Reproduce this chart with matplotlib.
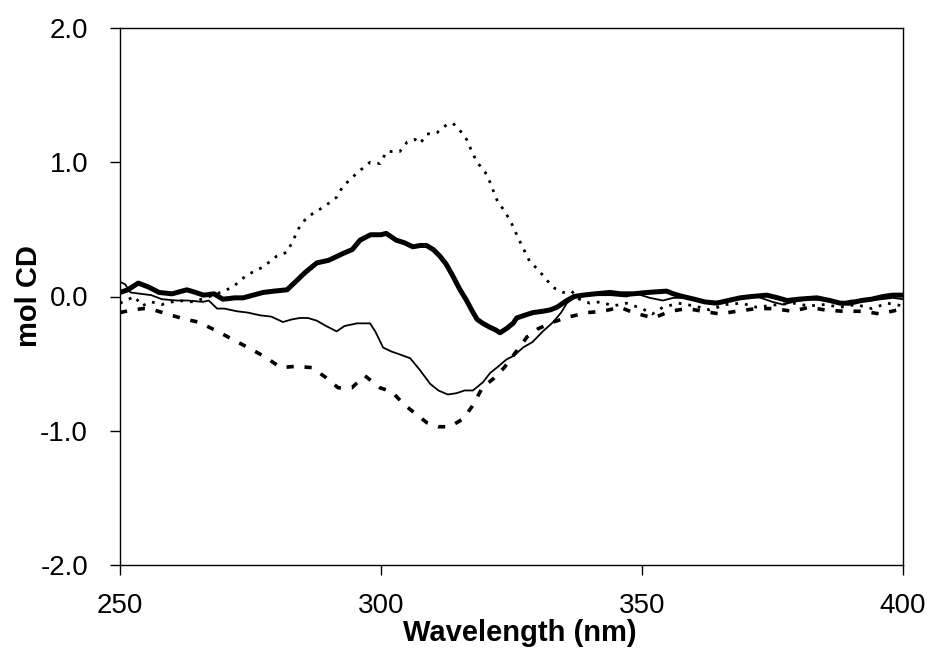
import numpy as np
import matplotlib
matplotlib.use('Agg')
import matplotlib.pyplot as plt

##################################################################
# Data (wavelength in nm, mol CD)

# thick solid line
wlThick = [250, 251.5, 253.5, 255.5, 257.5, 260, 262.8, 264.5, 266, 268, 269.7, 272, 273.6,
           275.5, 277.4, 279.5, 282, 283.9, 285.5, 287.7, 290, 292.7, 294.5, 296, 298, 300,
           301, 302.9, 304.5, 306.1, 307.5, 308.7, 310, 311.3, 312.5, 313.8, 315, 316.4,
           317.5, 318.4, 319.5, 320.9, 322, 322.8, 324, 325.3, 326, 327.5, 329.1, 331, 332.4,
           333.7, 335.6, 337, 338.7, 341, 343.9, 346, 348.3, 351, 354.7, 356, 357.8, 360, 362,
           364.3, 366.5, 368.8, 371, 373.9, 376, 377.8, 380, 383.5, 386, 388, 389.8, 392, 394,
           396.2, 398, 400]
cdThick = [0.03, 0.05, 0.10, 0.07, 0.03, 0.02, 0.05, 0.03, 0.01, 0.02, -0.02, -0.01, -0.01,
           0.01, 0.03, 0.04, 0.05, 0.12, 0.18, 0.25, 0.27, 0.32, 0.35, 0.42, 0.46, 0.46,
           0.47, 0.42, 0.40, 0.37, 0.38, 0.38, 0.35, 0.30, 0.24, 0.15, 0.06, -0.03,
           -0.11, -0.17, -0.20, -0.23, -0.25, -0.27, -0.24, -0.20, -0.16, -0.14, -0.12, -0.11, -0.10,
           -0.08, -0.03, 0.00, 0.01, 0.02, 0.03, 0.02, 0.02, 0.03, 0.04, 0.02, 0.00, -0.02, -0.04,
           -0.05, -0.03, -0.01, 0.00, 0.01, -0.01, -0.03, -0.02, -0.01, -0.03, -0.05, -0.05, -0.03, -0.02,
           0.00, 0.01, 0.01]

# thin solid line
wlThin = [250, 251, 252, 254, 256, 258, 260.9, 263, 265.9, 267, 268.6, 270, 272.4, 274.5,
          276.8, 279, 281.2, 283, 284.5, 286, 287.7, 289.5, 291.5, 293, 295.4, 297.9, 298.9,
          300.4, 302, 303.5, 305.6, 307.5, 309.4, 311, 312.8, 314.5, 316, 317.6, 319.5, 320.9,
          322.5, 324, 325.5, 327.2, 329, 331, 333, 334.5, 335.6, 337, 338.7, 341, 344, 347,
          349, 351.5, 354, 356, 358, 361, 364, 367, 370, 372, 375, 377, 379, 382, 385, 388,
          390, 393, 396, 398, 400]
cdThin = [0.11, 0.09, 0.03, 0.02, 0.01, -0.02, -0.03, -0.03, -0.04, -0.03, -0.09, -0.09, -0.11, -0.12,
          -0.14, -0.15, -0.19, -0.17, -0.16, -0.16, -0.18, -0.22, -0.26, -0.22, -0.20, -0.20, -0.26,
          -0.38, -0.41, -0.43, -0.46, -0.55, -0.65, -0.70, -0.73, -0.72, -0.70, -0.70, -0.64, -0.57,
          -0.52, -0.47, -0.44, -0.38, -0.34, -0.26, -0.19, -0.12, -0.05, -0.01, 0.01, 0.01, 0.01, 0.00,
          0.02, -0.01, -0.03, -0.01, -0.01, -0.03, -0.04, -0.02, -0.01, 0.00, -0.04, -0.06, -0.04, -0.02, -0.03, -0.05,
          -0.03, -0.03, -0.02, -0.01, -0.02]

# dashed line
wlDash = [250, 252.3, 254.5, 256.5, 259, 262.5, 265, 268.2, 271.6, 274.5, 277.8, 280.8, 283.7,
          286.8, 289.3, 291.8, 294.4, 296.9, 299.8, 302.1, 304.3, 306.5, 308.8, 311, 313.2,
          315.8, 317.6, 319.4, 321.6, 323.6, 325.9, 328, 330.1, 333, 336.2, 339.5, 342.5,
          345.8, 348.3, 352.2, 355.4, 358.6, 361.7, 364.9, 368.1, 371.9, 375.1, 378.9, 382,
          385, 388.5, 392.3, 395.6, 399, 400]
cdDash = [-0.12, -0.10, -0.09, -0.10, -0.13, -0.17, -0.19, -0.25, -0.32, -0.38, -0.45, -0.53, -0.52,
          -0.53, -0.60, -0.68, -0.68, -0.59, -0.68, -0.71, -0.80, -0.87, -0.94, -0.97, -0.97,
          -0.91, -0.81, -0.68, -0.61, -0.53, -0.41, -0.30, -0.24, -0.19, -0.15, -0.12, -0.11,
          -0.08, -0.12, -0.16, -0.11, -0.09, -0.11, -0.13, -0.11, -0.09, -0.09, -0.11, -0.08,
          -0.10, -0.11, -0.11, -0.13, -0.10, -0.09]

# dotted line
wlDot = [250, 252.8, 254.2, 256, 258, 261, 264, 266.5, 269.2, 271.6, 274.3, 277.4, 280, 282,
         283.2, 284.1, 285.8, 288.3, 290.2, 291.5, 292.7, 295.4, 297.9, 299.8, 301.1, 303.6,
         305, 306.5, 307.5, 308.8, 310.7, 312.6, 313.8, 315.5, 316.4, 317.4, 318.4, 319.9,
         320.9, 321.5, 322.2, 323.4, 324.7, 326.6, 328.5, 330.1, 331.8, 333.3, 334.9, 336.5,
         338, 340, 342, 344.5, 347, 350, 352, 354, 357, 360, 363, 366, 369, 372, 376, 379,
         382, 385, 388, 391, 394, 397, 400]
cdDot = [-0.05, 0.00, -0.07, -0.04, -0.06, -0.03, -0.04, -0.01, 0.03, 0.07, 0.16, 0.22, 0.30, 0.33,
         0.42, 0.50, 0.59, 0.65, 0.70, 0.74, 0.82, 0.92, 1.00, 0.99, 1.08, 1.08,
         1.15, 1.17, 1.14, 1.21, 1.22, 1.28, 1.29, 1.22, 1.17, 1.08, 1.00, 0.93,
         0.85, 0.79, 0.72, 0.65, 0.57, 0.41, 0.26, 0.20, 0.12, 0.06, 0.03, 0.04,
         -0.02, -0.05, -0.04, -0.07, -0.05, -0.09, -0.13, -0.08, -0.05, -0.07, -0.10, -0.06, -0.05, -0.08, -0.06, -0.05,
         -0.07, -0.06, -0.08, -0.06, -0.09, -0.05, -0.07]

xTicks = [250, 300, 350, 400]
yTicks = [-2.0, -1.0, 0.0, 1.0, 2.0]

##################################################################
# Plot

plt.rcParams['font.family'] = ['Liberation Sans', 'DejaVu Sans']

fig = plt.figure(figsize=(9.32, 6.52), dpi=100)
ax = fig.add_axes([120/932, 1-565/652, 783/932, 537/652])

ax.plot(wlDot, cdDot, color='black', lw=2.0, linestyle=(0, (1, 2.5)))
ax.plot(wlDash, cdDash, color='black', lw=2.6, linestyle=(0, (2, 3)))
ax.plot(wlThin, cdThin, color='black', lw=1.3)
ax.plot(wlThick, cdThick, color='black', lw=3.6)

ax.set_xlim(250, 400)
ax.set_ylim(-2.0, 2.0)
ax.set_xticks(xTicks)
ax.set_xticklabels([str(x) for x in xTicks])
ax.set_yticks(yTicks)
ax.set_yticklabels(['{:.1f}'.format(y) for y in yTicks])

ax.tick_params(axis='both', direction='out', length=7, width=1, labelsize=20)
ax.tick_params(axis='y', pad=16)
ax.tick_params(axis='x', pad=13)
for s in ax.spines.values():
    s.set_linewidth(1)

ax.set_xlabel('Wavelength (nm)', fontsize=21, fontweight='bold')
ax.set_ylabel('mol CD', fontsize=21, fontweight='bold')
ax.xaxis.set_label_coords(0.511, -0.10)
ax.yaxis.set_label_coords(-0.098, 0.5)

fig.savefig('out.png', dpi=100)
